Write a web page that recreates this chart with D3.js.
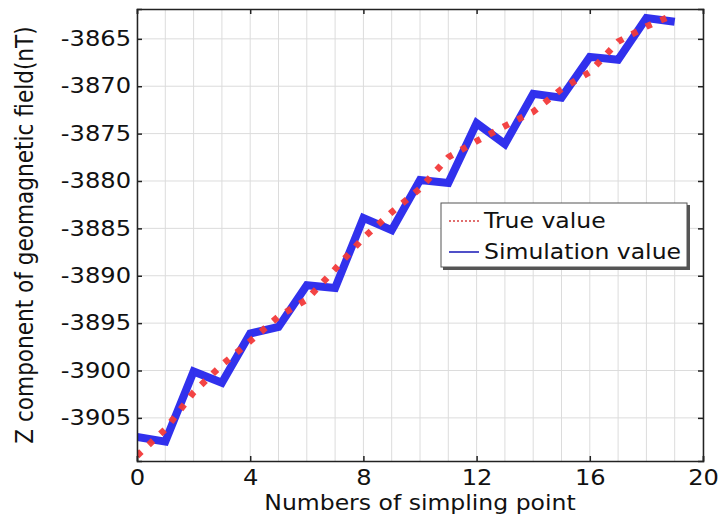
<!DOCTYPE html>
<html>
<head>
<meta charset="utf-8">
<script src="https://cdn.jsdelivr.net/npm/d3@7"></script>
<style>
  body { margin: 0; background: #fff; }
  svg { display: block; font-family: "DejaVu Sans", sans-serif; }
</style>
</head>
<body>
<svg id="chart" width="718" height="517"></svg>
<script>
// sampling points
const samplePoints = d3.range(0, 20);

// true value (red dotted)
const trueValues = [
  -3909.0, -3906.2, -3902.3, -3899.4, -3896.9, -3894.3, -3892.5, -3889.3, -3886.0, -3883.3,
  -3880.8, -3877.5, -3875.8, -3874.2, -3872.7, -3870.3, -3868.5, -3865.3, -3863.7, -3862.4
];

// simulation value (blue)
const simValues = [
  -3907.0, -3907.5, -3900.1, -3901.3, -3896.1, -3895.4, -3891.0, -3891.3, -3883.9, -3885.2,
  -3879.9, -3880.2, -3873.9, -3876.1, -3870.8, -3871.2, -3866.9, -3867.2, -3862.8, -3863.2
];

const xTicks = [0, 4, 8, 12, 16, 20];
const yTicks = [-3905, -3900, -3895, -3890, -3885, -3880, -3875, -3870, -3865];
const xGrid = d3.range(0, 21);

const width = 718, height = 517;
const margin = { top: 9, right: 15, bottom: 56, left: 137 };
const innerW = width - margin.left - margin.right;
const innerH = height - margin.top - margin.bottom;

// the reference text is a bit wider than DejaVu's natural width
const stretch = 1.12;
function widen(sel, k) {
  sel.each(function () {
    const w = this.getComputedTextLength();
    d3.select(this).attr("textLength", w * k).attr("lengthAdjust", "spacingAndGlyphs");
  });
}

const svg = d3.select("#chart");
const g = svg.append("g").attr("transform", `translate(${margin.left},${margin.top})`);

const x = d3.scaleLinear().domain([0, 20]).range([0, innerW]);
const y = d3.scaleLinear().domain([-3909.55, -3861.85]).range([innerH, 0]);

// grid
g.append("g")
  .selectAll("line")
  .data(xGrid)
  .join("line")
  .attr("x1", d => x(d)).attr("x2", d => x(d))
  .attr("y1", 0).attr("y2", innerH)
  .attr("stroke", "#dcdcdc").attr("stroke-width", 1);

g.append("g")
  .selectAll("line")
  .data(yTicks)
  .join("line")
  .attr("x1", 0).attr("x2", innerW)
  .attr("y1", d => y(d)).attr("y2", d => y(d))
  .attr("stroke", "#dcdcdc").attr("stroke-width", 1);

// clip so thick lines stay inside the frame
g.append("clipPath").attr("id", "clip")
  .append("rect").attr("width", innerW).attr("height", innerH);

const plot = g.append("g").attr("clip-path", "url(#clip)");

const line = d3.line().x((d, i) => x(samplePoints[i])).y(d => y(d));

plot.append("path")
  .datum(simValues)
  .attr("d", line)
  .attr("fill", "none")
  .attr("stroke", "#1f1fec")
  .attr("stroke-opacity", 0.92)
  .attr("stroke-width", 8)
  .attr("stroke-linejoin", "miter");

plot.append("path")
  .datum(trueValues)
  .attr("d", line)
  .attr("fill", "none")
  .attr("stroke", "#f23a3a")
  .attr("stroke-opacity", 0.95)
  .attr("stroke-width", 6.5)
  .attr("stroke-dasharray", "6,10");

// axes
const yAxis = g.append("g")
  .call(d3.axisLeft(y).tickValues(yTicks).tickSize(-5).tickPadding(6).tickFormat(d3.format("d")));
const xAxis = g.append("g")
  .attr("transform", `translate(0,${innerH})`)
  .call(d3.axisBottom(x).tickValues(xTicks).tickSize(-5).tickPadding(8));
const topAxis = g.append("g")
  .call(d3.axisTop(x).tickValues(xTicks).tickSize(-5).tickFormat(""));
const rightAxis = g.append("g")
  .attr("transform", `translate(${innerW},0)`)
  .call(d3.axisRight(y).tickValues(yTicks).tickSize(-5).tickFormat(""));

[xAxis, yAxis, topAxis, rightAxis].forEach(a => {
  a.select(".domain").attr("stroke", "#222").attr("stroke-width", 1.5);
  a.selectAll(".tick line").attr("stroke", "#222").attr("stroke-width", 1.5);
  a.selectAll("text").style("font-size", "21px").attr("fill", "#111")
    .style("font-family", "DejaVu Sans, sans-serif");
});
yAxis.selectAll("text").text(d => d3.format("d")(d).replace("−", "-"));
xAxis.selectAll("text").attr("dy", "0.75em");
widen(yAxis.selectAll("text"), 1.15);
widen(xAxis.selectAll("text"), 1.15);

// axis titles
svg.append("text")
  .attr("x", margin.left + innerW / 2)
  .attr("y", 510)
  .attr("text-anchor", "middle")
  .style("font-size", "21px")
  .attr("fill", "#111")
  .text("Numbers of simpling point")
  .call(widen, stretch);

// y title: glyphs are wider in the reference, so stretch across the baseline
svg.append("g")
  .attr("transform", "translate(33,235) scale(1.22,1)")
  .append("text")
  .attr("transform", "rotate(-90)")
  .attr("text-anchor", "middle")
  .style("font-size", "21px")
  .attr("fill", "#111")
  .text("Z component of geomagnetic field(nT)")
  .call(widen, 1.03);

// legend
const legend = svg.append("g").attr("transform", "translate(441,203)");
legend.append("rect")
  .attr("x", 2).attr("y", 2).attr("width", 247).attr("height", 65)
  .attr("fill", "#555");
legend.append("rect")
  .attr("width", 246).attr("height", 64)
  .attr("fill", "#fff").attr("stroke", "#555").attr("stroke-width", 1);

const legendItems = [
  { label: "True value", color: "#d84040", dash: "2,2", w: 1.5 },
  { label: "Simulation value", color: "#5050c8", dash: null, w: 2 }
];
legendItems.forEach((d, i) => {
  const yy = 18 + i * 31;
  legend.append("line")
    .attr("x1", 8).attr("x2", 38).attr("y1", yy).attr("y2", yy)
    .attr("stroke", d.color).attr("stroke-width", d.w)
    .attr("stroke-dasharray", d.dash);
  legend.append("text")
    .attr("x", 43).attr("y", yy).attr("dy", "0.35em")
    .style("font-size", "21px").attr("fill", "#111")
    .text(d.label)
    .call(widen, stretch);
});
</script>
</body>
</html>
